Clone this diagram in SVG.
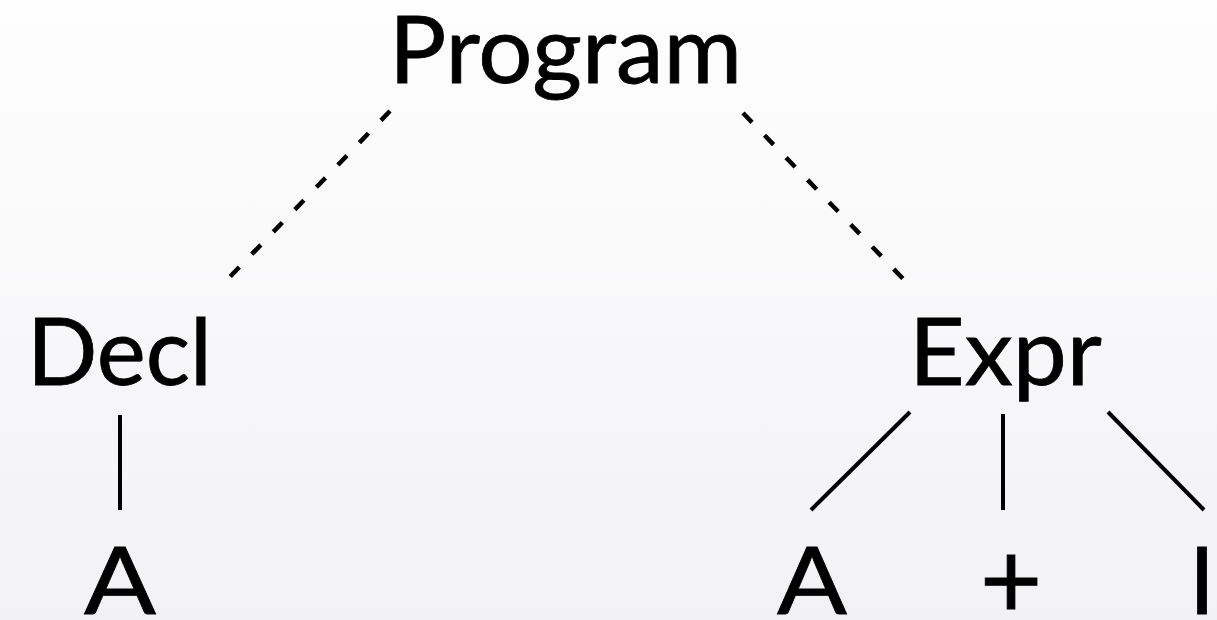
<svg xmlns="http://www.w3.org/2000/svg" width="1217" height="620" viewBox="0 0 1217 620">
<defs>
<linearGradient id="bg" x1="0" y1="0" x2="0" y2="1">
<stop offset="0" stop-color="#fefefe"/>
<stop offset="1" stop-color="#f2f2f5"/>
</linearGradient>
</defs>
<style>
.t{font-family:Lato,"Gill Sans","Open Sans",sans-serif;font-size:93px;fill:#000;stroke:#000;stroke-width:0.8}
.e{stroke:#000;stroke-width:4;fill:none}
.d{stroke-width:4.5;stroke-dasharray:13 18}
</style>
<rect width="1217" height="620" fill="url(#bg)"/>
<g id="connectors">
<line class="e d" x1="390" y1="111" x2="223" y2="284"/>
<line class="e d" x1="743" y1="113" x2="912" y2="288"/>
<line class="e" x1="120" y1="415" x2="120" y2="510"/>
<line class="e" x1="910" y1="412" x2="811" y2="510"/>
<line class="e" x1="1003" y1="414" x2="1003" y2="510"/>
<line class="e" x1="1108" y1="412" x2="1204" y2="510"/>
</g>
<g id="program"><text class="t" x="389" y="83" textLength="353" lengthAdjust="spacingAndGlyphs">Program</text></g>
<g id="decl"><text class="t" x="27" y="385" textLength="185" lengthAdjust="spacingAndGlyphs">Decl</text></g>
<g id="expr"><text class="t" x="909" y="385" textLength="193" lengthAdjust="spacingAndGlyphs">Expr</text></g>
<g id="a1"><text class="t" x="84" y="614" textLength="72" lengthAdjust="spacingAndGlyphs">A</text></g>
<g id="a2"><text class="t" x="777" y="614" textLength="70" lengthAdjust="spacingAndGlyphs">A</text></g>
<g id="plus"><text class="t" x="1011" y="618" text-anchor="middle" style="font-size:108px">+</text></g>
<g id="one"><text class="t" x="1202" y="614" text-anchor="middle">I</text></g>
</svg>
